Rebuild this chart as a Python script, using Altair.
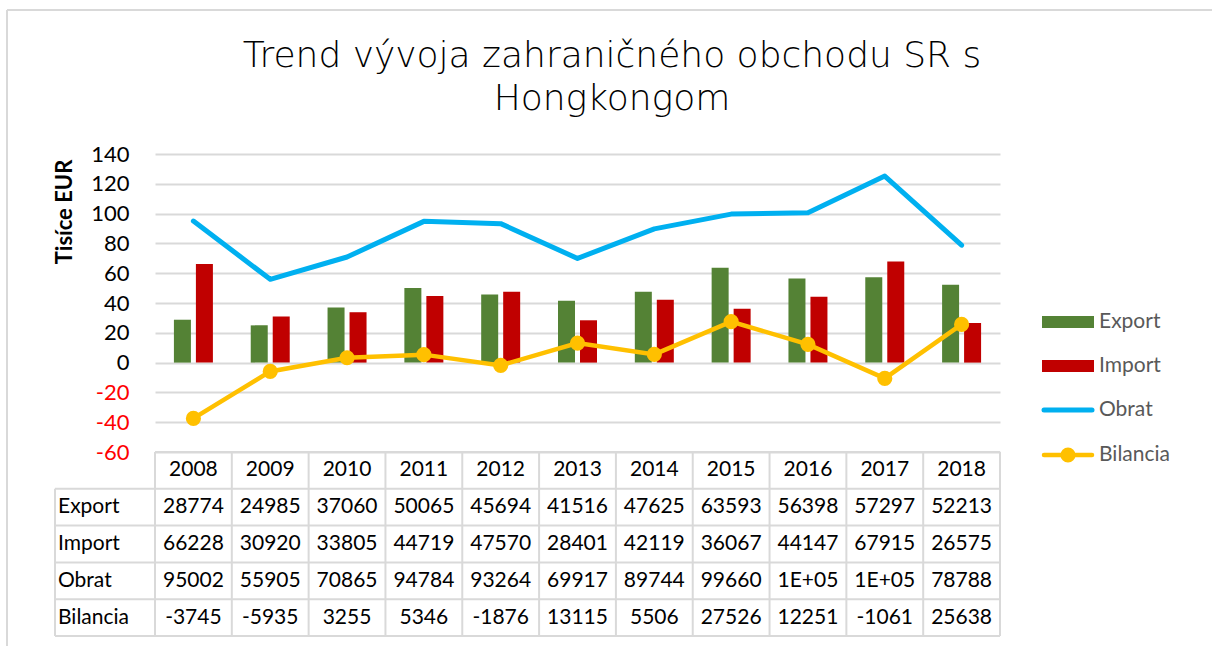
import altair as alt
import pandas as pd

years = ["2008", "2009", "2010", "2011", "2012", "2013", "2014", "2015", "2016", "2017", "2018"]
export_vals = [28774, 24985, 37060, 50065, 45694, 41516, 47625, 63593, 56398, 57297, 52213]
import_vals = [66228, 30920, 33805, 44719, 47570, 28401, 42119, 36067, 44147, 67915, 26575]
obrat_vals = [95002, 55905, 70865, 94784, 93264, 69917, 89744, 99660, 100545, 125212, 78788]
bilancia_vals = [-37454, -5935, 3255, 5346, -1876, 13115, 5506, 27526, 12251, -10618, 25638]

# texts as shown in the data table
export_txt = ["28774", "24985", "37060", "50065", "45694", "41516", "47625", "63593", "56398", "57297", "52213"]
import_txt = ["66228", "30920", "33805", "44719", "47570", "28401", "42119", "36067", "44147", "67915", "26575"]
obrat_txt = ["95002", "55905", "70865", "94784", "93264", "69917", "89744", "99660", "1E+05", "1E+05", "78788"]
bilancia_txt = ["-3745", "-5935", "3255", "5346", "-1876", "13115", "5506", "27526", "12251", "-1061", "25638"]

series = ["Export", "Import", "Obrat", "Bilancia"]
rows = ["hdr"] + series
colors = ["#548235", "#C00000", "#00B0F0", "#FFC000"]
title_lines = ["Trend vývoja zahraničného obchodu SR s", "Hongkongom"]
tick_values = [-60, -40, -20, 0, 20, 40, 60, 80, 100, 120, 140]

W, H = 845, 298
TABLE_BOTTOM = 482
FONT = "Lato"
GRID = "#D9D9D9"

bars_df = pd.DataFrame(
    [{"year": y, "series": "Export", "value": v / 1000} for y, v in zip(years, export_vals)]
    + [{"year": y, "series": "Import", "value": v / 1000} for y, v in zip(years, import_vals)]
)
obrat_df = pd.DataFrame({"year": years, "value": [v / 1000 for v in obrat_vals]})
bil_df = pd.DataFrame({"year": years, "value": [v / 1000 for v in bilancia_vals]})

table_records = [{"row": "hdr", "year": y, "txt": y} for y in years]
for name, txts in zip(series, [export_txt, import_txt, obrat_txt, bilancia_txt]):
    table_records += [{"row": name, "year": y, "txt": t} for y, t in zip(years, txts)]
table_df = pd.DataFrame(table_records)
label_df = pd.DataFrame({"row": series})

xscale = alt.Scale(domain=years, paddingInner=0, paddingOuter=0)
yscale = alt.Scale(domain=[-60, 140], nice=False)
rowscale = alt.Scale(domain=rows, range=[H, TABLE_BOTTOM], paddingInner=0, paddingOuter=0)

yaxis = alt.Axis(values=tick_values, grid=True, gridColor=GRID, gridWidth=2,
                 ticks=False, domain=False, labelFontSize=22, labelFont=FONT,
                 labelExpr="'' + datum.value", labelOverlap=False, labelBound=False,
                 labelColor=alt.expr("datum.value < 0 ? '#FF0000' : '#000000'"),
                 labelPadding=26, title=None)

bars = alt.Chart(bars_df).mark_bar().encode(
    x=alt.X("year:N", scale=xscale, axis=None),
    xOffset=alt.XOffset("series:N", scale=alt.Scale(domain=["Export", "Import"], paddingInner=0.227, paddingOuter=0.86)),
    y=alt.Y("value:Q", scale=yscale, axis=yaxis),
    color=alt.Color("series:N", scale=alt.Scale(domain=series, range=colors), legend=None),
)

obrat = alt.Chart(obrat_df).mark_line(color="#00B0F0", strokeWidth=5, strokeCap="round", strokeJoin="round").encode(
    x=alt.X("year:N", scale=xscale, axis=None, bandPosition=0.5),
    y=alt.Y("value:Q", scale=yscale, axis=yaxis),
)
bil = alt.Chart(bil_df).mark_line(color="#FFC000", strokeWidth=4.5, strokeCap="round",
                                  point=alt.OverlayMarkDef(color="#FFC000", size=230, filled=True, opacity=1)).encode(
    x=alt.X("year:N", scale=xscale, axis=None, bandPosition=0.5),
    y=alt.Y("value:Q", scale=yscale, axis=yaxis),
)
main = alt.layer(bars, obrat, bil)

# data table
hdr_rule = alt.Chart(pd.DataFrame({"row": ["hdr"]})).mark_rule(color=GRID, strokeWidth=2).encode(
    y=alt.Y("row:N", scale=rowscale, axis=None, bandPosition=0),
    x=alt.value(0), x2=alt.value(W),
)
row_rules = alt.Chart(label_df).mark_rule(color=GRID, strokeWidth=2).encode(
    y=alt.Y("row:N", scale=rowscale, axis=None, bandPosition=0),
    x=alt.value(-100), x2=alt.value(W),
)
bottom_rule = alt.Chart(pd.DataFrame({"row": ["Bilancia"]})).mark_rule(color=GRID, strokeWidth=2).encode(
    y=alt.Y("row:N", scale=rowscale, axis=None, bandPosition=1),
    x=alt.value(-100), x2=alt.value(W),
)
vrules = alt.Chart(pd.DataFrame({"year": years})).mark_rule(color=GRID, strokeWidth=2).encode(
    x=alt.X("year:N", scale=xscale, axis=None, bandPosition=0),
    y=alt.value(H), y2=alt.value(TABLE_BOTTOM),
)
vrule_end = alt.Chart(pd.DataFrame({"year": [years[-1]]})).mark_rule(color=GRID, strokeWidth=2).encode(
    x=alt.X("year:N", scale=xscale, axis=None, bandPosition=1),
    y=alt.value(H), y2=alt.value(TABLE_BOTTOM),
)
vrule_left = alt.Chart(pd.DataFrame({"row": ["Export"]})).mark_rule(color=GRID, strokeWidth=2).encode(
    y=alt.Y("row:N", scale=rowscale, axis=None, bandPosition=0),
    y2=alt.value(TABLE_BOTTOM),
    x=alt.value(-100),
)
cells = alt.Chart(table_df).mark_text(fontSize=21, font=FONT, color="#000000", baseline="middle").encode(
    x=alt.X("year:N", scale=xscale, axis=None, bandPosition=0.5),
    y=alt.Y("row:N", scale=rowscale, axis=None, bandPosition=0.5),
    text="txt:N",
)
labels = alt.Chart(label_df).mark_text(fontSize=21, font=FONT, color="#000000", align="left", baseline="middle").encode(
    y=alt.Y("row:N", scale=rowscale, axis=None, bandPosition=0.5),
    x=alt.value(-97),
    text="row:N",
)
table = alt.layer(hdr_rule, row_rules, bottom_rule, vrules, vrule_end, vrule_left, cells, labels)

# legend
one = alt.Data(values=[{}])
LX1, LX2, LT = 887, 939, 944
leg_export = alt.Chart(one).mark_rect(color="#548235").encode(
    x=alt.value(LX1), x2=alt.value(LX2), y=alt.value(162), y2=alt.value(174))
leg_import = alt.Chart(one).mark_rect(color="#C00000").encode(
    x=alt.value(LX1), x2=alt.value(LX2), y=alt.value(206), y2=alt.value(218))
leg_obrat = alt.Chart(one).mark_rule(color="#00B0F0", strokeWidth=5, strokeCap="round").encode(
    x=alt.value(LX1 + 2), x2=alt.value(LX2 - 2), y=alt.value(256))
leg_bil = alt.Chart(one).mark_rule(color="#FFC000", strokeWidth=4.5, strokeCap="round").encode(
    x=alt.value(LX1 + 2), x2=alt.value(LX2 - 2), y=alt.value(301))
leg_bil_pt = alt.Chart(one).mark_point(color="#FFC000", filled=True, size=230, opacity=1).encode(
    x=alt.value((LX1 + LX2) / 2), y=alt.value(301))
leg_text = alt.Chart(pd.DataFrame({"s": series, "yy": [168, 212, 256, 301]})).mark_text(
    fontSize=21, font=FONT, color="#595959", align="left", baseline="middle").encode(
    x=alt.value(LT), y=alt.Y("yy:Q", scale=None), text="s:N")

ytitle = alt.Chart(one).mark_text(text="Tisíce EUR", fontSize=22, font=FONT, fontWeight="bold",
                                  angle=270, align="center", baseline="middle", color="#000000").encode(
    x=alt.value(-90), y=alt.value(58))

TFONT = "DejaVu Sans"
title1 = alt.Chart(one).mark_text(text=title_lines[0], fontSize=36, font=TFONT, fontWeight=200, color="#000000",
                                  align="center", baseline="alphabetic").encode(
    x=alt.value(457), y=alt.value(-87))
title2 = alt.Chart(one).mark_text(text=title_lines[1], fontSize=36, font=TFONT, fontWeight=200, color="#000000",
                                  align="center", baseline="alphabetic").encode(
    x=alt.value(457), y=alt.value(-44))

border_top = alt.Chart(one).mark_rule(color="#D9D9D9", strokeWidth=2).encode(
    x=alt.value(-148), x2=alt.value(1060), y=alt.value(-144))
border_left = alt.Chart(one).mark_rule(color="#D9D9D9", strokeWidth=2).encode(
    x=alt.value(-148), y=alt.value(-144), y2=alt.value(500))

chart = alt.layer(
    main, table, leg_export, leg_import, leg_obrat, leg_bil, leg_bil_pt, leg_text, ytitle,
    title1, title2, border_top, border_left,
).resolve_scale(y="independent").properties(
    width=W, height=H,
    autosize=alt.AutoSizeParams(type="none"),
    padding={"left": 155, "top": 154, "right": 212, "bottom": 194},
    background="white",
).configure_view(stroke=None).configure_axis(labelOverlap=False)

chart.save("out.html", embed_options={"renderer": "svg", "actions": False})
